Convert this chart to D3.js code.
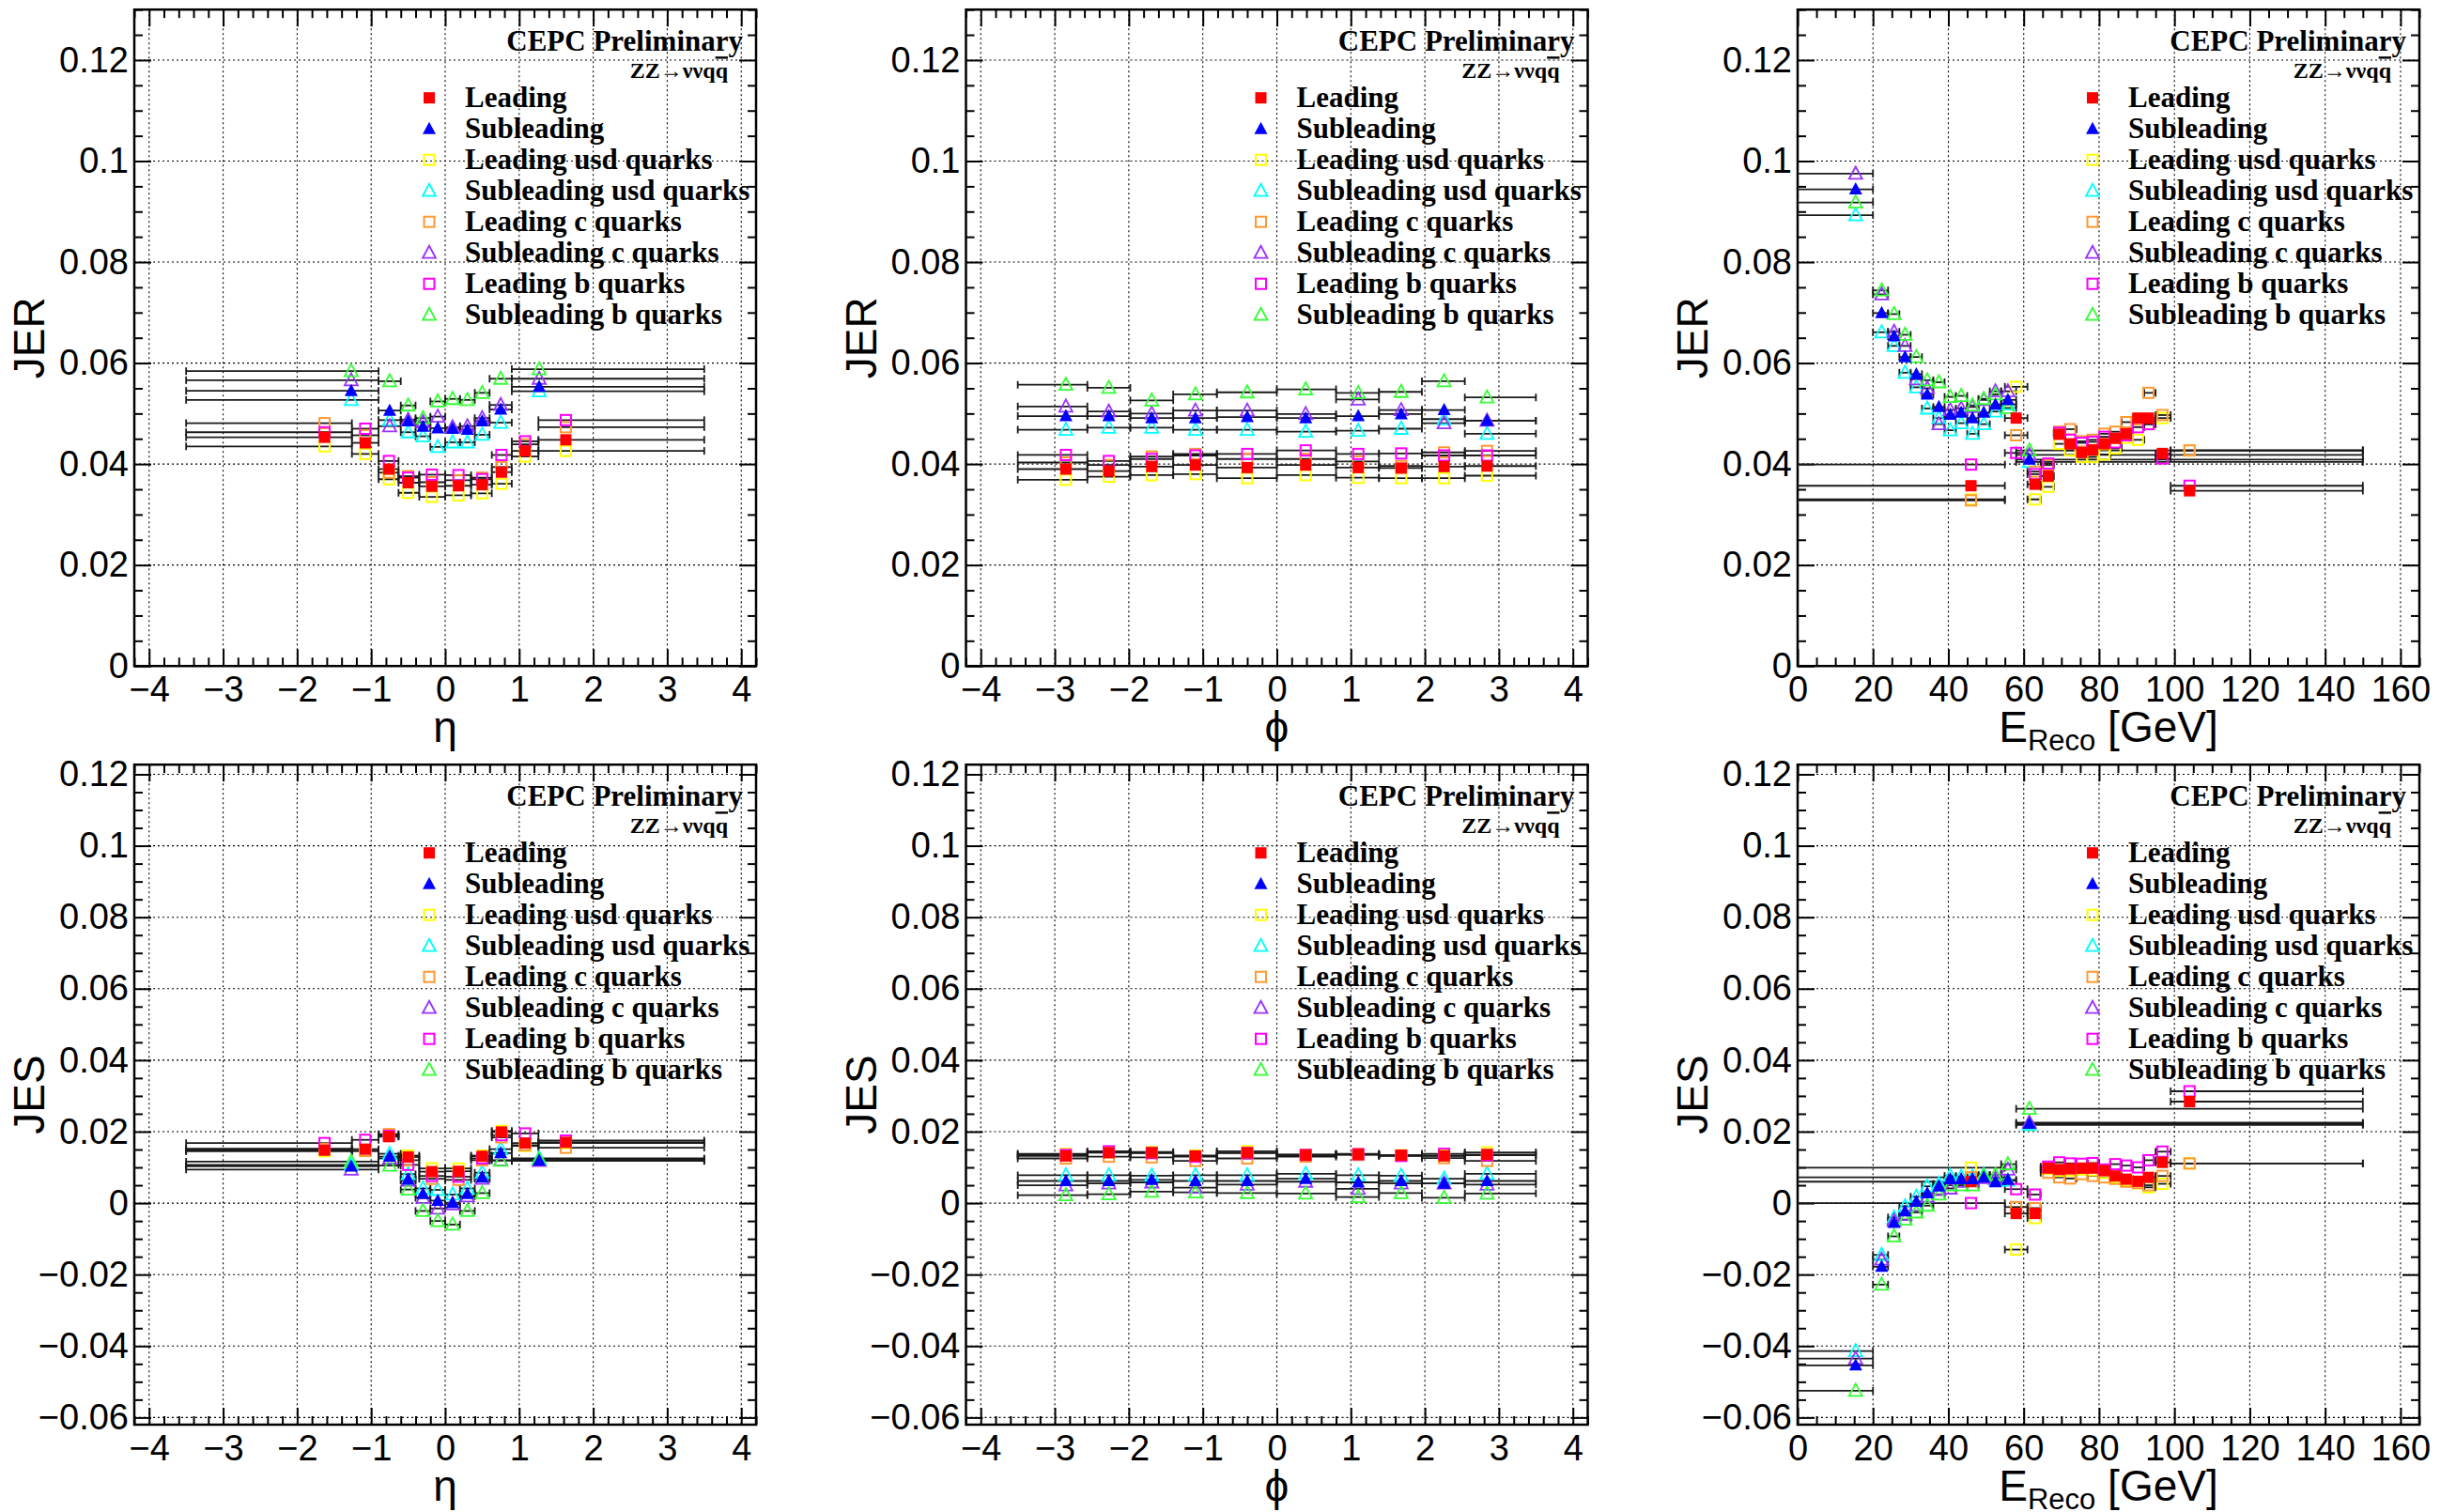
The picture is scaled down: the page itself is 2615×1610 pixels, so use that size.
<!DOCTYPE html>
<html><head><meta charset="utf-8">
<script src="https://cdn.jsdelivr.net/npm/d3@7"></script>
<style>body{margin:0;background:#fff}</style>
</head><body>
<svg id="c" width="2615" height="1610" xmlns="http://www.w3.org/2000/svg"></svg>
<script>
// ---------------- DATA ----------------
// eta binning
const etaLeadX = [-1.63,-1.08,-0.76,-0.5,-0.18,0.18,0.5,0.76,1.08,1.63];
const etaLeadEdges = [-3.5,-1.26,-0.9,-0.63,-0.35,0,0.35,0.63,0.9,1.26,3.5];
const etaSubX = [-1.27,-0.75,-0.5,-0.3,-0.1,0.1,0.3,0.5,0.75,1.27];
const etaSubEdges = [-3.5,-0.9,-0.6,-0.4,-0.2,0,0.2,0.4,0.6,0.9,3.5];
// phi binning (shared)
const phiX = [-2.85,-2.27,-1.69,-1.1,-0.4,0.39,1.1,1.68,2.26,2.84];
const phiEdges = [-3.5,-2.56,-1.98,-1.4,-0.81,0,0.8,1.38,1.96,2.54,3.5];
// E binning
const eLeadX = [46,58,63,66.5,69.4,72.3,75.4,78.3,81.4,84.3,87.2,90.3,93.1,96.8,104];
const eLeadEdges = [0,55,61,64.5,68,71,74,77,80,83,86,89,92,95,99,150];
const eSubX = [15.4,22.3,25.6,28.5,31.5,34.4,37.5,40.5,43.4,46.4,49.4,52.5,55.8,61.5];
const eSubEdges = [0,20,24,27,30,33,36,39,42,45,48,51,54,58,150];

// JER vs eta
const jerEtaL    = [0.0453,0.0442,0.0390,0.0363,0.0356,0.0357,0.0359,0.0384,0.0426,0.0448];
const jerEtaLusd = [0.0435,0.0420,0.0370,0.0343,0.0335,0.0338,0.0342,0.0361,0.0415,0.0426];
const jerEtaLc   = [0.0481,0.0457,0.0383,0.0376,0.0364,0.0368,0.0373,0.0394,0.0439,0.0473];
const jerEtaLb   = [0.0463,0.0470,0.0406,0.0373,0.0379,0.0378,0.0370,0.0418,0.0445,0.0487];
const jerEtaS    = [0.0545,0.0506,0.0485,0.0474,0.0471,0.0470,0.0468,0.0485,0.0508,0.0553];
const jerEtaSusd = [0.0527,0.0487,0.0463,0.0455,0.0434,0.0443,0.0443,0.0458,0.0482,0.0544];
const jerEtaSc   = [0.0566,0.0475,0.0488,0.0483,0.0494,0.0473,0.0475,0.0491,0.0517,0.0569];
const jerEtaSb   = [0.0584,0.0564,0.0516,0.0491,0.0524,0.0529,0.0527,0.0541,0.0569,0.0588];

// JER vs phi
const jerPhiL    = [0.0390,0.0386,0.0395,0.0398,0.0393,0.0398,0.0393,0.0392,0.0395,0.0396];
const jerPhiLusd = [0.0369,0.0375,0.0378,0.0380,0.0372,0.0378,0.0373,0.0372,0.0372,0.0377];
const jerPhiLc   = [0.0403,0.0398,0.0415,0.0420,0.0410,0.0410,0.0405,0.0396,0.0423,0.0426];
const jerPhiLb   = [0.0418,0.0406,0.0410,0.0417,0.0420,0.0427,0.0420,0.0421,0.0417,0.0417];
const jerPhiS    = [0.0495,0.0495,0.0491,0.0491,0.0493,0.0491,0.0495,0.0499,0.0507,0.0486];
const jerPhiSusd = [0.0468,0.0472,0.0472,0.0468,0.0468,0.0464,0.0466,0.0470,0.0489,0.0460];
const jerPhiSc   = [0.0514,0.0504,0.0500,0.0506,0.0506,0.0499,0.0528,0.0507,0.0481,0.0486];
const jerPhiSb   = [0.0557,0.0551,0.0526,0.0538,0.0542,0.0548,0.0541,0.0543,0.0564,0.0532];

// JER vs E
const jerEL    = [0.0357,0.0491,0.0360,0.0376,0.0459,0.0440,0.0423,0.0428,0.0440,0.0451,0.0460,0.0491,0.0491,0.0421,0.0347];
const jerELusd = [0.0330,0.0553,0.0330,0.0355,0.0440,0.0427,0.0414,0.0414,0.0419,0.0431,0.0452,0.0448,0.0479,0.0491,0.0427];
const jerELc   = [0.0328,0.0457,0.0385,0.0398,0.0464,0.0469,0.0445,0.0448,0.0460,0.0464,0.0483,0.0488,0.0541,0.0497,0.0427];
const jerELb   = [0.0399,0.0422,0.0380,0.0401,0.0462,0.0448,0.0442,0.0444,0.0454,0.0443,0.0457,0.0473,0.0479,0.0411,0.0357];
const jerES    = [0.0944,0.0699,0.0653,0.0612,0.0578,0.0538,0.0513,0.0498,0.0502,0.0491,0.0502,0.0518,0.0527,0.0409];
const jerESusd = [0.0893,0.0661,0.0634,0.0581,0.0552,0.0510,0.0491,0.0467,0.0481,0.0460,0.0479,0.0504,0.0518,0.0404];
const jerESc   = [0.0975,0.0736,0.0662,0.0634,0.0568,0.0550,0.0479,0.0507,0.0510,0.0513,0.0527,0.0544,0.0544,0.0418];
const jerESb   = [0.0918,0.0744,0.0697,0.0656,0.0612,0.0566,0.0562,0.0533,0.0535,0.0516,0.0529,0.0538,0.0511,0.0427];

// JES vs eta
const jesEtaL    = [0.0148,0.0151,0.0186,0.0129,0.0088,0.0089,0.0131,0.0199,0.0168,0.0170];
const jesEtaLusd = [0.0145,0.0146,0.0190,0.0133,0.0097,0.0097,0.0133,0.0202,0.0160,0.0168];
const jesEtaLc   = [0.0152,0.0146,0.0193,0.0120,0.0068,0.0065,0.0120,0.0184,0.0162,0.0155];
const jesEtaLb   = [0.0168,0.0177,0.0188,0.0107,0.0076,0.0074,0.0125,0.0190,0.0195,0.0175];
const jesEtaS    = [0.0103,0.0130,0.0066,0.0026,0.0007,0.0001,0.0026,0.0072,0.0140,0.0119];
const jesEtaSusd = [0.0107,0.0138,0.0081,0.0041,0.0037,0.0024,0.0041,0.0085,0.0151,0.0125];
const jesEtaSc   = [0.0094,0.0125,0.0063,0.0015,-0.0015,-0.0003,0.0019,0.0068,0.0120,0.0118];
const jesEtaSb   = [0.0116,0.0105,0.0038,-0.0022,-0.0050,-0.0060,-0.0022,0.0028,0.0119,0.0122];

// JES vs phi
const jesPhiL    = [0.0132,0.0141,0.0141,0.0132,0.0141,0.0134,0.0136,0.0134,0.0132,0.0136];
const jesPhiLusd = [0.0138,0.0142,0.0143,0.0133,0.0145,0.0136,0.0138,0.0134,0.0133,0.0142];
const jesPhiLc   = [0.0125,0.0130,0.0128,0.0118,0.0125,0.0130,0.0135,0.0133,0.0126,0.0118];
const jesPhiLb   = [0.0135,0.0145,0.0140,0.0130,0.0140,0.0135,0.0137,0.0132,0.0138,0.0134];
const jesPhiS    = [0.0062,0.0062,0.0065,0.0062,0.0062,0.0068,0.0058,0.0062,0.0055,0.0062];
const jesPhiSusd = [0.0078,0.0078,0.0077,0.0078,0.0078,0.0082,0.0078,0.0077,0.0068,0.0082];
const jesPhiSc   = [0.0050,0.0055,0.0058,0.0043,0.0052,0.0060,0.0040,0.0055,0.0055,0.0052];
const jesPhiSb   = [0.0022,0.0025,0.0032,0.0030,0.0028,0.0027,0.0017,0.0028,0.0015,0.0027];

// JES vs E
const jesEL    = [0.0060,-0.0029,-0.0029,0.0098,0.0094,0.0096,0.0098,0.0098,0.0091,0.0076,0.0067,0.0061,0.0072,0.0114,0.0284];
const jesELusd = [0.0099,-0.0130,-0.0042,0.0096,0.0090,0.0091,0.0094,0.0092,0.0085,0.0072,0.0063,0.0056,0.0044,0.0054,0.0111];
const jesELc   = [0.0072,-0.0011,-0.0014,0.0085,0.0072,0.0069,0.0081,0.0076,0.0072,0.0068,0.0060,0.0056,0.0050,0.0076,0.0111];
const jesELb   = [0.0000,0.0039,0.0024,0.0102,0.0114,0.0111,0.0110,0.0112,0.0094,0.0109,0.0105,0.0100,0.0120,0.0144,0.0313];
const jesES    = [-0.0454,-0.0178,-0.0055,-0.0023,0.0004,0.0028,0.0047,0.0067,0.0067,0.0067,0.0072,0.0059,0.0065,0.0222];
const jesESusd = [-0.0414,-0.0145,-0.0040,-0.0009,0.0018,0.0047,0.0054,0.0076,0.0074,0.0074,0.0079,0.0067,0.0063,0.0219];
const jesESc   = [-0.0435,-0.0158,-0.0049,-0.0033,-0.0007,0.0018,0.0037,0.0041,0.0060,0.0063,0.0070,0.0068,0.0094,0.0225];
const jesESb   = [-0.0525,-0.0228,-0.0093,-0.0046,-0.0026,-0.0007,0.0024,0.0050,0.0050,0.0050,0.0076,0.0079,0.0109,0.0264];

// series (legend order)
const seriesKeys   = ['L','S','Lusd','Susd','Lc','Sc','Lb','Sb'];
const seriesLabels = ['Leading','Subleading','Leading usd quarks','Subleading usd quarks','Leading c quarks','Subleading c quarks','Leading b quarks','Subleading b quarks'];
const seriesColors = ['#ff0000','#0000ff','#ffff00','#00ffff','#ff9933','#9933ff','#ff00ff','#33ff33'];

// tick labels
const etaTicks = [-4,-3,-2,-1,0,1,2,3,4];
const eTicks = [0,20,40,60,80,100,120,140,160];
const jerTicks = [0,0.02,0.04,0.06,0.08,0.1,0.12];
const jesTicks = [-0.06,-0.04,-0.02,0,0.02,0.04,0.06,0.08,0.1,0.12];

// ---------------- LAYOUT ----------------
const colLeft = [143, 1028.5, 1914];
const plotW = 662;
const rows = [{top:10.2, h:699}, {top:814.2, h:702.8}];

const panels = [
  {col:0,row:0,xv:'eta',yv:'JER',d:{L:jerEtaL,S:jerEtaS,Lusd:jerEtaLusd,Susd:jerEtaSusd,Lc:jerEtaLc,Sc:jerEtaSc,Lb:jerEtaLb,Sb:jerEtaSb}},
  {col:1,row:0,xv:'phi',yv:'JER',d:{L:jerPhiL,S:jerPhiS,Lusd:jerPhiLusd,Susd:jerPhiSusd,Lc:jerPhiLc,Sc:jerPhiSc,Lb:jerPhiLb,Sb:jerPhiSb}},
  {col:2,row:0,xv:'E',yv:'JER',d:{L:jerEL,S:jerES,Lusd:jerELusd,Susd:jerESusd,Lc:jerELc,Sc:jerESc,Lb:jerELb,Sb:jerESb}},
  {col:0,row:1,xv:'eta',yv:'JES',d:{L:jesEtaL,S:jesEtaS,Lusd:jesEtaLusd,Susd:jesEtaSusd,Lc:jesEtaLc,Sc:jesEtaSc,Lb:jesEtaLb,Sb:jesEtaSb}},
  {col:1,row:1,xv:'phi',yv:'JES',d:{L:jesPhiL,S:jesPhiS,Lusd:jesPhiLusd,Susd:jesPhiSusd,Lc:jesPhiLc,Sc:jesPhiSc,Lb:jesPhiLb,Sb:jesPhiSb}},
  {col:2,row:1,xv:'E',yv:'JES',d:{L:jesEL,S:jesES,Lusd:jesELusd,Susd:jesESusd,Lc:jesELc,Sc:jesESc,Lb:jesELb,Sb:jesESb}},
];

function binning(xv, isLead){
  if(xv==='eta') return isLead?{x:etaLeadX,e:etaLeadEdges}:{x:etaSubX,e:etaSubEdges};
  if(xv==='phi') return {x:phiX,e:phiEdges};
  return isLead?{x:eLeadX,e:eLeadEdges}:{x:eSubX,e:eSubEdges};
}
const round = v => +v.toFixed(4);
function rangeStep(a,b,s){const out=[];const n=Math.round((b-a)/s);for(let i=0;i<=n;i++)out.push(round(a+i*s));return out;}

const svg = d3.select('#c');
const SANS = 'Liberation Sans, Arial, Helvetica, sans-serif';
const SERIF = 'Liberation Serif, Times New Roman, serif';

function marker(sel, idx, cx, cy){
  const col = seriesColors[idx];
  const isSq = idx%2===0;
  const filled = idx<2;
  if(isSq){
    if(filled) sel.append('rect').attr('x',cx-6).attr('y',cy-6).attr('width',12).attr('height',12).attr('fill',col);
    else sel.append('rect').attr('x',cx-5.5).attr('y',cy-5.5).attr('width',11).attr('height',11).attr('fill','none').attr('stroke',col).attr('stroke-width',2);
  } else {
    const p = `M${cx},${cy-7.5}L${cx+7},${cy+5.5}L${cx-7},${cy+5.5}Z`;
    if(filled) sel.append('path').attr('d',p).attr('fill',col);
    else sel.append('path').attr('d',p).attr('fill','none').attr('stroke',col).attr('stroke-width',1.8);
  }
}

panels.forEach((P,pi)=>{
  const L = colLeft[P.col], T = rows[P.row].top, H = rows[P.row].h, R = L+plotW, B = T+H;
  const xdom = P.xv==='E'?[0,165]:[-4.2,4.2];
  const ydom = P.yv==='JER'?[0,0.13]:[-0.062,0.1227];
  const x = d3.scaleLinear().domain(xdom).range([L,R]);
  const y = d3.scaleLinear().domain(ydom).range([B,T]);
  const xMaj = P.xv==='E'?eTicks:etaTicks;
  const xMin = (P.xv==='E'?rangeStep(0,165,5):rangeStep(-4.2,4.2,0.2)).filter(v=>!xMaj.some(m=>Math.abs(m-v)<1e-6));
  const yMaj = P.yv==='JER'?jerTicks:jesTicks;
  const yMin = (P.yv==='JER'?rangeStep(0,0.13,0.005):rangeStep(-0.06,0.12,0.005)).filter(v=>!yMaj.some(m=>Math.abs(m-v)<1e-6));

  const g = svg.append('g');
  const cid = 'clip'+pi;
  g.append('clipPath').attr('id',cid).append('rect').attr('x',L).attr('y',T).attr('width',plotW).attr('height',H);

  // grid
  const grid = g.append('g').attr('stroke','#000').attr('stroke-width',1.1).attr('stroke-dasharray','2,3');
  xMaj.forEach(v=>{ if(x(v)>L+1 && x(v)<R-1) grid.append('line').attr('x1',x(v)).attr('x2',x(v)).attr('y1',T).attr('y2',B); });
  yMaj.forEach(v=>{ if(y(v)>T+1 && y(v)<B-1) grid.append('line').attr('x1',L).attr('x2',R).attr('y1',y(v)).attr('y2',y(v)); });

  // axes
  const fmtY = d3.format('~g');
  const fmtX = d3.format('d');
  const styleAxis = (a)=>{a.select('.domain').remove(); a.selectAll('line').attr('stroke','#000').attr('stroke-width',2);
    a.selectAll('text').attr('font-family',SANS).attr('font-size',38).attr('fill','#000');};
  styleAxis(g.append('g').attr('transform',`translate(0,${B})`).call(d3.axisBottom(x).tickValues(xMaj).tickSize(-18).tickPadding(11).tickFormat(fmtX)));
  styleAxis(g.append('g').attr('transform',`translate(0,${B})`).call(d3.axisBottom(x).tickValues(xMin).tickSize(-9).tickFormat('')));
  styleAxis(g.append('g').attr('transform',`translate(0,${T})`).call(d3.axisTop(x).tickValues(xMaj).tickSize(-18).tickFormat('')));
  styleAxis(g.append('g').attr('transform',`translate(0,${T})`).call(d3.axisTop(x).tickValues(xMin).tickSize(-9).tickFormat('')));
  styleAxis(g.append('g').attr('transform',`translate(${L},0)`).call(d3.axisLeft(y).tickValues(yMaj).tickSize(-18).tickPadding(6).tickFormat(fmtY)));
  styleAxis(g.append('g').attr('transform',`translate(${L},0)`).call(d3.axisLeft(y).tickValues(yMin).tickSize(-9).tickFormat('')));
  styleAxis(g.append('g').attr('transform',`translate(${R},0)`).call(d3.axisRight(y).tickValues(yMaj).tickSize(-18).tickFormat('')));
  styleAxis(g.append('g').attr('transform',`translate(${R},0)`).call(d3.axisRight(y).tickValues(yMin).tickSize(-9).tickFormat('')));

  // frame
  g.append('rect').attr('x',L).attr('y',T).attr('width',plotW).attr('height',H).attr('fill','none').attr('stroke','#000').attr('stroke-width',2.5);

  // data
  const dg = g.append('g').attr('clip-path',`url(#${cid})`);
  const bars = dg.append('g').attr('stroke','#1a1a1a').attr('stroke-width',1.8);
  seriesKeys.forEach((k,si)=>{
    const bn = binning(P.xv, si%2===0);
    P.d[k].forEach((v,i)=>{
      const x1=x(bn.e[i]), x2=x(bn.e[i+1]), yy=y(v);
      bars.append('line').attr('x1',x1).attr('x2',x2).attr('y1',yy).attr('y2',yy);
      bars.append('line').attr('x1',x1).attr('x2',x1).attr('y1',yy-4).attr('y2',yy+4);
      bars.append('line').attr('x1',x2).attr('x2',x2).attr('y1',yy-4).attr('y2',yy+4);
    });
  });
  const mk = dg.append('g');
  const order = [2,3,4,5,6,7,0,1];
  order.forEach(si=>{
    const k = seriesKeys[si];
    const bn = binning(P.xv, si%2===0);
    P.d[k].forEach((v,i)=> marker(mk, si, x(bn.x[i]), y(v)));
  });

  // axis titles
  g.append('text').attr('transform',`translate(${L-96},${(T+B)/2}) rotate(-90)`).attr('text-anchor','middle')
    .attr('font-family',SANS).attr('font-size',46).text(P.yv);
  const xt = g.append('text').attr('x',(L+R)/2).attr('y',B+81).attr('text-anchor','middle').attr('font-family',SANS).attr('font-size',46);
  if(P.xv==='eta') xt.text('η');
  else if(P.xv==='phi') xt.text('ϕ');
  else { xt.append('tspan').text('E'); xt.append('tspan').attr('font-size',31).attr('dy',9).text('Reco'); xt.append('tspan').attr('dy',-9).text(' [GeV]'); }

  // labels
  g.append('text').attr('x',R-14).attr('y',T+44).attr('text-anchor','end').attr('font-family',SERIF).attr('font-weight','bold').attr('font-size',31).text('CEPC Preliminary');
  const zz = g.append('text').attr('x',R-30).attr('y',T+73).attr('text-anchor','end').attr('font-family',SERIF).attr('font-weight','bold').attr('font-size',24);
  zz.append('tspan').text('ZZ→ννq');
  zz.append('tspan').attr('text-decoration','overline').style('text-decoration','overline').text('q');

  // legend
  seriesKeys.forEach((k,si)=>{
    const cy = T+94+si*33;
    marker(g, si, R-348, cy);
    g.append('text').attr('x',R-310).attr('y',cy+10).attr('font-family',SERIF).attr('font-weight','bold').attr('font-size',31).text(seriesLabels[si]);
  });
});
</script>
</body></html>
